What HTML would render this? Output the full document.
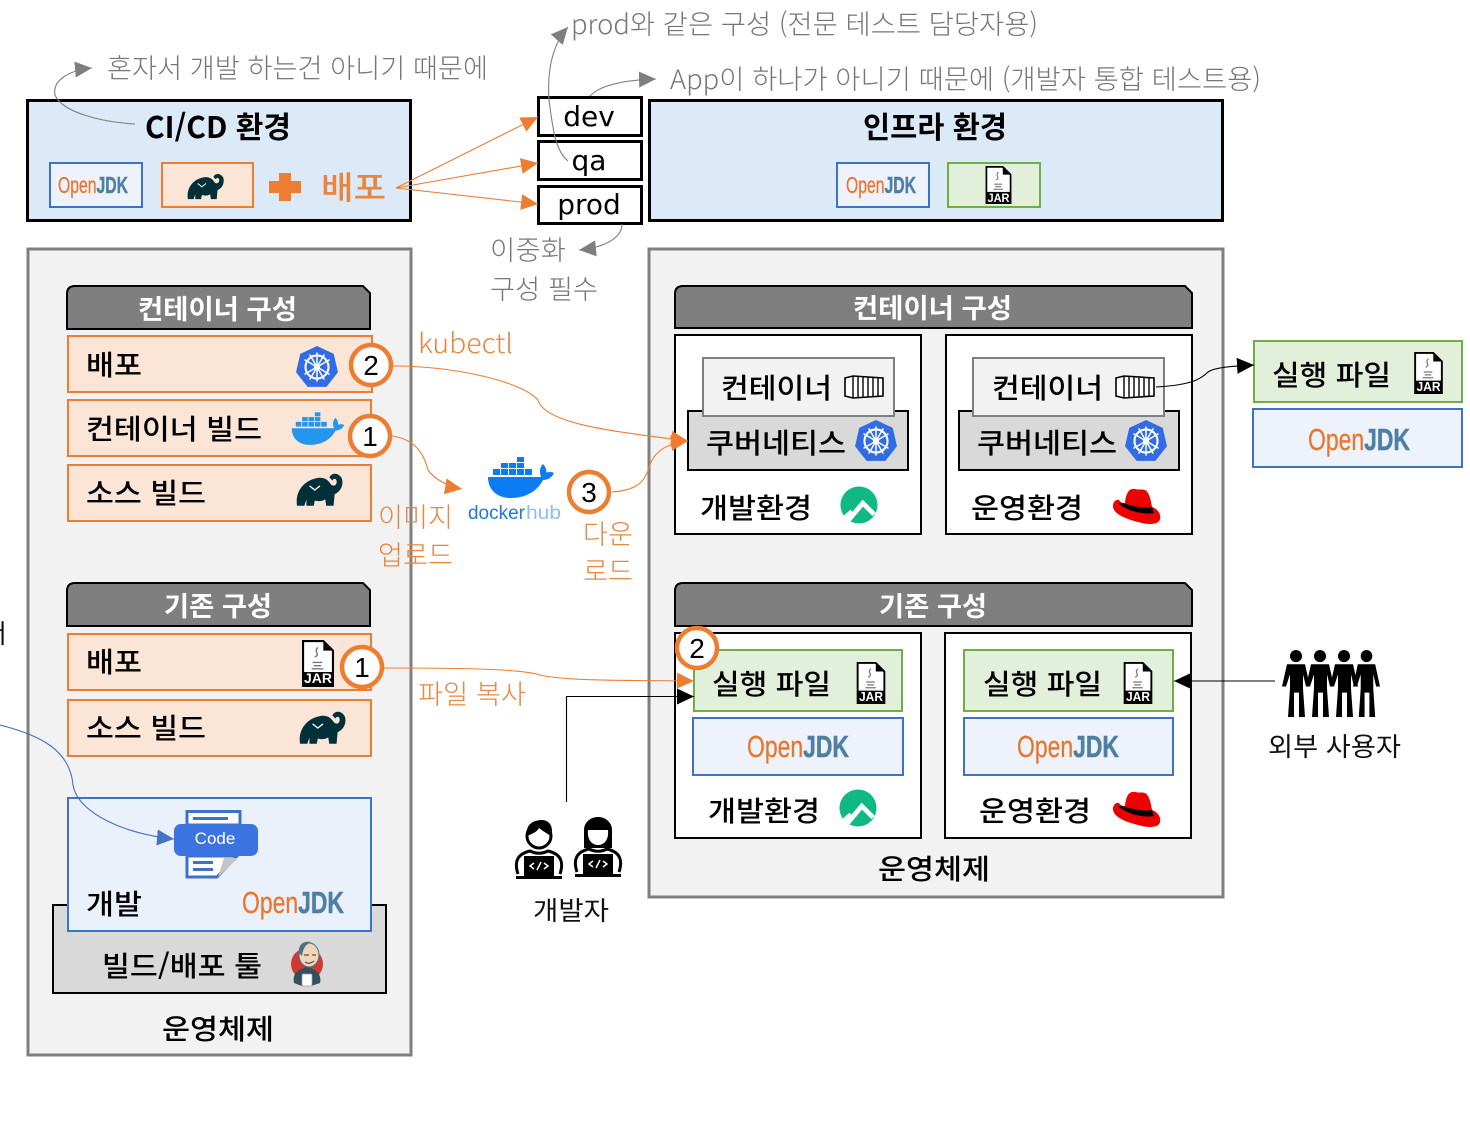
<!DOCTYPE html>
<html lang="ko"><head><meta charset="utf-8"><title>CI/CD</title>
<style>
html,body{margin:0;padding:0;background:#fff;width:1470px;height:1144px;overflow:hidden}
svg{display:block}
text{font-family:"Liberation Sans","Noto Sans CJK KR",sans-serif}
.b,.h,.g,.o,.d{transform:translateY(1px)}
.b{font-family:"Noto Sans CJK KR","Liberation Sans",sans-serif;font-weight:500;font-size:28px;fill:#000}
.h{font-family:"Noto Sans CJK KR","Liberation Sans",sans-serif;font-weight:700;font-size:27px;fill:#fff}
.g{font-family:"Noto Sans CJK KR","Liberation Sans",sans-serif;font-weight:300;font-size:27px;fill:#767676}
.o{font-family:"Noto Sans CJK KR","Liberation Sans",sans-serif;font-weight:300;font-size:27px;fill:#e8853f}
.n{font-family:"DejaVu Sans",sans-serif;font-size:28px;fill:#000;text-anchor:middle}
.d{font-family:"Noto Sans CJK KR","Liberation Sans",sans-serif;font-size:26px;fill:#111;font-weight:400}
.j{font-weight:400;fill:#e8762d;stroke:#e8762d;stroke-width:.3}
.j tspan{fill:#4f7fa3;stroke:#4f7fa3;stroke-width:.5;font-weight:700}
.jr{font-weight:700;font-size:14px;fill:#fff}
.gr{stroke:#7f7f7f;stroke-width:1.1;fill:none}
.or{stroke:#ed7d31;stroke-width:1.1;fill:none}
.bk{stroke:#000;stroke-width:1.1;fill:none}
</style></head><body>
<svg width="1470" height="1144" viewBox="0 0 1470 1144" xmlns="http://www.w3.org/2000/svg">
<defs>
<marker id="mg" markerUnits="userSpaceOnUse" markerWidth="18" markerHeight="18" refX="17" refY="9" orient="auto"><path d="M0 1L17 9L0 17Z" fill="#7f7f7f"/></marker>
<marker id="mo" markerUnits="userSpaceOnUse" markerWidth="18" markerHeight="18" refX="17" refY="9" orient="auto"><path d="M0 1L17 9L0 17Z" fill="#ed7d31"/></marker>
<marker id="mk" markerUnits="userSpaceOnUse" markerWidth="18" markerHeight="18" refX="17" refY="9" orient="auto"><path d="M0 1L17 9L0 17Z" fill="#000"/></marker>
<marker id="mb" markerUnits="userSpaceOnUse" markerWidth="18" markerHeight="18" refX="17" refY="9" orient="auto"><path d="M0 1L17 9L0 17Z" fill="#4472c4"/></marker>
<symbol id="gradle" viewBox="0 0 46 34"><path d="M1 33C-1 21 6 10 18 7C25 5 30 7 33 12C35 15 39 14 39 10C39 7 36 6 35 9L32 6C34 1 41 1 44 7C46 14 42 20 37 22L36 33H29L28 27C25 29 21 29 18 28L17 33H10L10 27L8 33Z" fill="#02303a"/><path d="M13 14L18 18L23 14" stroke="#fff" stroke-width="1.2" fill="none"/></symbol>
<symbol id="k8s" viewBox="0 0 42 42"><path d="M21 1L37 8.5L41 26L30 40H12L1 26L5 8.5Z" fill="#326ce5"/><circle cx="21" cy="21" r="11" fill="none" stroke="#fff" stroke-width="2"/><circle cx="21" cy="21" r="3" fill="#fff"/><path d="M21 7V35M9 14L33 28M9 28L33 14M14 9L28 33M28 9L14 33" stroke="#fff" stroke-width="1.4"/></symbol>
<symbol id="whale" viewBox="0 0 68 42"><g fill="currentColor"><path d="M1 20H54C57 15 63 14 67 16C65 21 60 23 56 23C51 33 40 41 24 41C9 41 1 32 1 20Z"/><path d="M54 20C52 14 53 10 56 7C59 10 60 14 59 18Z"/><rect x="6" y="12" width="7" height="6"/><rect x="14" y="12" width="7" height="6"/><rect x="22" y="12" width="7" height="6"/><rect x="30" y="12" width="7" height="6"/><rect x="38" y="12" width="7" height="6"/><rect x="14" y="6" width="7" height="5"/><rect x="22" y="6" width="7" height="5"/><rect x="30" y="6" width="7" height="5"/><rect x="30" y="0" width="7" height="5"/></g></symbol>
<symbol id="rocky" viewBox="0 0 40 40"><circle cx="20" cy="20" r="19.5" fill="#10b981"/><path d="M9 36L24 18L36 30" fill="none" stroke="#fff" stroke-width="5"/><path d="M3 32L11 25L16 30L9 38Z" fill="#fff"/></symbol>
<symbol id="redhat" viewBox="0 0 48 36"><path d="M12 15C13 5 16 0 22 1C26 2 29 1 32 2C36 4 38 12 39 19C45 21 48 26 47 31C46 37 35 37 25 34C13 31 0 26 0 18C0 14 3 11 6 12C8 15 10 15 12 15Z" fill="#e00"/><path d="M9 15C16 17 30 21 39 19L41 25C30 27 14 23 5 15C7 15 8 15 9 15Z" fill="#000"/></symbol>
<symbol id="cont" viewBox="0 0 40 24"><path d="M1 3L9 1L39 3V21L9 23L1 21Z" fill="#fff" stroke="#000" stroke-width="1.6"/><path d="M9 1V23M14 2V22M19 2V22M24 2V22M29 2V22M34 2V22" stroke="#000" stroke-width="1.4"/></symbol>
<symbol id="person" viewBox="0 0 28 66" preserveAspectRatio="none"><circle cx="14" cy="6" r="6" fill="#000"/><path d="M5 14H23L28 36H24L21 24V38L23 66H17V42H12V66H6L8 38V24L4 36H0Z" fill="#000"/></symbol>
<symbol id="devm" viewBox="0 0 50 62"><circle cx="25" cy="18" r="12" fill="#fff" stroke="#000" stroke-width="3"/><path d="M13 18C11 6 20 2 28 2C36 2 40 10 37 18C32 15 26 11 25 10C23 14 18 16 13 18Z" fill="#000"/><path d="M4 56C0 44 3 36 16 33C22 36 28 36 34 33C47 36 50 44 46 56" fill="#fff" stroke="#000" stroke-width="3"/><rect x="10" y="38" width="30" height="20" fill="#000"/><rect x="2" y="58" width="46" height="3" fill="#000"/><path d="M20 45L16 48L20 51M30 45L34 48L30 51M27 44L23 52" stroke="#fff" stroke-width="1.5" fill="none"/></symbol>
<symbol id="devf" viewBox="0 0 50 62"><path d="M11 32V14C11 6 18 1 25 1C32 1 39 6 39 14V32Z" fill="#000"/><path d="M15 14C22 14 30 14 35 14C36 24 31 29 25 29C19 29 14 24 15 14Z" fill="#fff"/><path d="M4 56C0 44 3 36 16 33C22 36 28 36 34 33C47 36 50 44 46 56" fill="#fff" stroke="#000" stroke-width="3"/><rect x="10" y="38" width="30" height="20" fill="#000"/><rect x="2" y="58" width="46" height="3" fill="#000"/><path d="M20 45L16 48L20 51M30 45L34 48L30 51M27 44L23 52" stroke="#fff" stroke-width="1.5" fill="none"/></symbol>
<symbol id="jarb" viewBox="0 0 30 44"><path d="M1 1H20L29 10V43H1Z" fill="#fff" stroke="#000" stroke-width="2"/><path d="M20 1V10H29Z" fill="#000"/><rect x="1" y="30" width="28" height="13" fill="#000"/><path d="M12 16C18 13 10 11 15 7M10 21H19M11 24H18M9 27H20" stroke="#777" stroke-width="1.3" fill="none"/></symbol>
</defs>

<!-- top environment boxes -->
<rect x="27.5" y="100.5" width="383" height="120" fill="#dce9f6" stroke="#000" stroke-width="3"/>
<rect x="649.5" y="100.5" width="573" height="120" fill="#dce9f6" stroke="#000" stroke-width="3"/>
<text class="b" x="145" y="137" style="font-weight:700;font-size:30px" textLength="146" lengthAdjust="spacingAndGlyphs">CI/CD 환경</text>
<text class="b" x="863" y="137" style="font-weight:700;font-size:30px" textLength="144" lengthAdjust="spacingAndGlyphs">인프라 환경</text>
<rect x="50" y="163" width="92" height="44" fill="#edf2fb" stroke="#3d72c9" stroke-width="2"/>
<text class="j" x="58" y="193" font-size="23" textLength="70" lengthAdjust="spacingAndGlyphs">Open<tspan>JDK</tspan></text>
<rect x="162" y="163" width="91" height="44" fill="#fbe5d6" stroke="#ed7d31" stroke-width="2"/>
<use href="#gradle" x="187" y="172" width="38" height="28"/>
<path d="M279 173H291V181H301V193H291V201H279V193H269V181H279Z" fill="#ed7d31"/>
<text class="o" x="321" y="198" style="font-size:32px;font-weight:500" textLength="65" lengthAdjust="spacingAndGlyphs">배포</text>
<rect x="837" y="163" width="92" height="44" fill="#edf2fb" stroke="#3d72c9" stroke-width="2"/>
<text class="j" x="846" y="193" font-size="23" textLength="70" lengthAdjust="spacingAndGlyphs">Open<tspan>JDK</tspan></text>
<rect x="948" y="163" width="92" height="44" fill="#e2efda" stroke="#70ad47" stroke-width="2"/>
<use href="#jarb" x="985" y="166" width="27" height="38"/><text class="jr" x="998.5" y="202" text-anchor="middle" style="font-size:12px" textLength="22" lengthAdjust="spacingAndGlyphs">JAR</text>

<!-- dev qa prod -->
<rect x="538.5" y="97.5" width="103" height="38" fill="#fff" stroke="#000" stroke-width="3"/>
<rect x="538.5" y="141.5" width="103" height="38" fill="#fff" stroke="#000" stroke-width="3"/>
<rect x="538.5" y="186.5" width="103" height="37" fill="#fff" stroke="#000" stroke-width="3"/>
<text class="n" x="589" y="126">dev</text>
<text class="n" x="589" y="170">qa</text>
<text class="n" x="589" y="214">prod</text>

<!-- annotations -->
<text class="g" x="107" y="77" textLength="381" lengthAdjust="spacingAndGlyphs">혼자서 개발 하는건 아니기 때문에</text>
<text class="g" x="571" y="33" textLength="467" lengthAdjust="spacingAndGlyphs">prod와 같은 구성 (전문 테스트 담당자용)</text>
<text class="g" x="670" y="88" textLength="591" lengthAdjust="spacingAndGlyphs">App이 하나가 아니기 때문에 (개발자 통합 테스트용)</text>
<text class="g" x="490" y="259" textLength="76" lengthAdjust="spacingAndGlyphs">이중화</text>
<text class="g" x="490" y="298" textLength="108" lengthAdjust="spacingAndGlyphs">구성 필수</text>

<!-- panels -->
<rect x="28" y="249" width="383" height="806" fill="#f2f2f2" stroke="#7f7f7f" stroke-width="3"/>
<rect x="649" y="249" width="574" height="648" fill="#f2f2f2" stroke="#7f7f7f" stroke-width="3"/>

<!-- left panel headings -->
<path d="M67 329V294Q67 286 75 286H363L370 293V329Z" fill="#7f7f7f" stroke="#000" stroke-width="2"/>
<text class="h" x="138" y="318" textLength="159" lengthAdjust="spacingAndGlyphs">컨테이너 구성</text>
<path d="M67 626V591Q67 583 75 583H363L370 590V626Z" fill="#7f7f7f" stroke="#000" stroke-width="2"/>
<text class="h" x="164" y="615" textLength="108" lengthAdjust="spacingAndGlyphs">기존 구성</text>

<!-- left rows -->
<g fill="#fbe5d6" stroke="#ed7d31" stroke-width="2">
<rect x="68" y="336" width="304" height="56"/>
<rect x="68" y="400" width="303" height="56"/>
<rect x="68" y="465" width="303" height="56"/>
<rect x="68" y="634" width="303" height="56"/>
<rect x="68" y="700" width="303" height="56"/>
</g>
<text class="b" x="86" y="374" textLength="56" lengthAdjust="spacingAndGlyphs">배포</text>
<text class="b" x="86" y="438" textLength="176" lengthAdjust="spacingAndGlyphs">컨테이너 빌드</text>
<text class="b" x="86" y="502" textLength="120" lengthAdjust="spacingAndGlyphs">소스 빌드</text>
<text class="b" x="86" y="671" textLength="56" lengthAdjust="spacingAndGlyphs">배포</text>
<text class="b" x="86" y="737" textLength="120" lengthAdjust="spacingAndGlyphs">소스 빌드</text>
<use href="#k8s" x="295" y="345" width="44" height="44"/>
<use href="#whale" x="291" y="409" width="54" height="40" style="color:#2496ed"/>
<use href="#gradle" x="296" y="471" width="48" height="36"/>
<use href="#jarb" x="301" y="640" width="34" height="47"/><text class="jr" x="318" y="683" text-anchor="middle" style="font-size:14px" textLength="28" lengthAdjust="spacingAndGlyphs">JAR</text>
<use href="#gradle" x="299" y="709" width="48" height="36"/>

<!-- tool + dev -->
<rect x="53" y="905" width="333" height="88" fill="#d9d9d9" stroke="#000" stroke-width="2"/>
<rect x="68" y="798" width="303" height="133" fill="#ebf1fb" stroke="#3d72c9" stroke-width="2"/>
<path d="M187 811.5H240V825H187Z" fill="#fff" stroke="#3d72c9" stroke-width="3"/>
<rect x="193" y="817" width="35" height="3" fill="#3d72c9"/>
<path d="M187 856V877H217L237 856Z" fill="#fff" stroke="#3d72c9" stroke-width="3"/>
<path d="M218 877L224 858H238Z" fill="#c5c5c5"/>
<rect x="193" y="861" width="20" height="3" fill="#3d72c9"/><rect x="193" y="868" width="20" height="3" fill="#3d72c9"/>
<rect x="174" y="824" width="84" height="32" rx="7" fill="#3b74e0"/>
<text x="215" y="844" font-size="17" fill="#fff" text-anchor="middle">Code</text>
<text class="b" x="86" y="913" textLength="56" lengthAdjust="spacingAndGlyphs">개발</text>
<text class="j" x="242" y="913" font-size="31" textLength="102" lengthAdjust="spacingAndGlyphs">Open<tspan>JDK</tspan></text>
<text class="b" x="102" y="975" textLength="160" lengthAdjust="spacingAndGlyphs">빌드/배포 툴</text>
<circle cx="307" cy="964" r="16" fill="#d33833"/>
<path d="M294 983C292 974 298 969 307 967C316 969 322 974 320 983L311 986H302Z" fill="#335061"/>
<ellipse cx="309" cy="955" rx="10" ry="12" fill="#f0d6b7" stroke="#49728b"/>
<path d="M299 953C298 943 305 941 311 942C305 945 303 949 302 956Z" fill="#49728b"/>
<path d="M304 955H309M312 955H316M305 962Q309 965 314 961" stroke="#333" stroke-width="1" fill="none"/>
<rect x="302" y="974" width="10" height="12" rx="1" fill="#fff" stroke="#999" stroke-width=".7"/>
<text class="b" x="162" y="1038" textLength="112" lengthAdjust="spacingAndGlyphs">운영체제</text>

<!-- right headings -->
<path d="M675 328V294Q675 286 683 286H1185L1192 293V328Z" fill="#7f7f7f" stroke="#000" stroke-width="2"/>
<text class="h" x="853" y="317" textLength="159" lengthAdjust="spacingAndGlyphs">컨테이너 구성</text>
<path d="M675 626V591Q675 583 683 583H1185L1192 590V626Z" fill="#7f7f7f" stroke="#000" stroke-width="2"/>
<text class="h" x="879" y="615" textLength="108" lengthAdjust="spacingAndGlyphs">기존 구성</text>

<!-- upper right boxes -->
<g fill="#fff" stroke="#000" stroke-width="2">
<rect x="675" y="335" width="246" height="199"/>
<rect x="946" y="335" width="246" height="199"/>
<rect x="675" y="633" width="246" height="205"/>
<rect x="945" y="633" width="246" height="205"/>
</g>
<rect x="688" y="411" width="220" height="59" fill="#d9d9d9" stroke="#000" stroke-width="2"/>
<rect x="959" y="411" width="220" height="59" fill="#d9d9d9" stroke="#000" stroke-width="2"/>
<rect x="703" y="358" width="191" height="58" fill="#f2f2f2" stroke="#7f7f7f" stroke-width="2"/>
<rect x="973" y="358" width="191" height="58" fill="#f2f2f2" stroke="#7f7f7f" stroke-width="2"/>
<text class="b" x="721" y="397" textLength="111" lengthAdjust="spacingAndGlyphs">컨테이너</text>
<text class="b" x="992" y="397" textLength="111" lengthAdjust="spacingAndGlyphs">컨테이너</text>
<use href="#cont" x="844" y="375" width="40" height="24"/>
<use href="#cont" x="1115" y="375" width="40" height="24"/>
<text class="b" x="706" y="452" textLength="140" lengthAdjust="spacingAndGlyphs">쿠버네티스</text>
<text class="b" x="977" y="452" textLength="140" lengthAdjust="spacingAndGlyphs">쿠버네티스</text>
<use href="#k8s" x="854" y="419" width="44" height="44"/>
<use href="#k8s" x="1124" y="419" width="44" height="44"/>
<text class="b" x="700" y="517" textLength="112" lengthAdjust="spacingAndGlyphs">개발환경</text>
<text class="b" x="971" y="517" textLength="112" lengthAdjust="spacingAndGlyphs">운영환경</text>
<use href="#rocky" x="840" y="486" width="38" height="38"/>
<use href="#redhat" x="1113" y="488" width="48" height="36"/>

<!-- far right -->
<rect x="1254" y="341" width="208" height="61" fill="#e2efda" stroke="#70ad47" stroke-width="2"/>
<text class="b" x="1272" y="384" textLength="119" lengthAdjust="spacingAndGlyphs">실행 파일</text>
<use href="#jarb" x="1414" y="352" width="29" height="42"/><text class="jr" x="1428.5" y="391" text-anchor="middle" style="font-size:13px" textLength="24" lengthAdjust="spacingAndGlyphs">JAR</text>
<rect x="1253" y="409" width="209" height="58" fill="#edf2fb" stroke="#3d72c9" stroke-width="2"/>
<text class="j" x="1308" y="450" font-size="31" textLength="102" lengthAdjust="spacingAndGlyphs">Open<tspan>JDK</tspan></text>

<!-- lower right -->
<rect x="694" y="650" width="208" height="61" fill="#e2efda" stroke="#70ad47" stroke-width="2"/>
<rect x="964" y="650" width="209" height="61" fill="#e2efda" stroke="#70ad47" stroke-width="2"/>
<rect x="693" y="718" width="210" height="57" fill="#edf2fb" stroke="#3d72c9" stroke-width="2"/>
<rect x="964" y="718" width="209" height="57" fill="#edf2fb" stroke="#3d72c9" stroke-width="2"/>
<text class="b" x="712" y="693" textLength="119" lengthAdjust="spacingAndGlyphs">실행 파일</text>
<text class="b" x="983" y="693" textLength="119" lengthAdjust="spacingAndGlyphs">실행 파일</text>
<use href="#jarb" x="856" y="662" width="30" height="42"/><text class="jr" x="871" y="701" text-anchor="middle" style="font-size:13px" textLength="24" lengthAdjust="spacingAndGlyphs">JAR</text>
<use href="#jarb" x="1123" y="662" width="30" height="42"/><text class="jr" x="1138" y="701" text-anchor="middle" style="font-size:13px" textLength="24" lengthAdjust="spacingAndGlyphs">JAR</text>
<text class="j" x="747" y="757" font-size="31" textLength="102" lengthAdjust="spacingAndGlyphs">Open<tspan>JDK</tspan></text>
<text class="j" x="1017" y="757" font-size="31" textLength="102" lengthAdjust="spacingAndGlyphs">Open<tspan>JDK</tspan></text>
<text class="b" x="708" y="820" textLength="112" lengthAdjust="spacingAndGlyphs">개발환경</text>
<text class="b" x="979" y="820" textLength="112" lengthAdjust="spacingAndGlyphs">운영환경</text>
<use href="#rocky" x="839" y="789" width="38" height="38"/>
<use href="#redhat" x="1113" y="791" width="48" height="36"/>
<text class="b" x="878" y="878" textLength="112" lengthAdjust="spacingAndGlyphs">운영체제</text>

<!-- people -->
<use href="#person" x="1282" y="650" width="28" height="67"/>
<use href="#person" x="1306" y="650" width="28" height="67"/>
<use href="#person" x="1330" y="650" width="28" height="67"/>
<use href="#person" x="1353" y="650" width="27" height="67"/>
<text class="d" x="1268" y="755" textLength="133" lengthAdjust="spacingAndGlyphs">외부 사용자</text>
<use href="#devm" x="514" y="818" width="50" height="62"/>
<use href="#devf" x="573" y="816" width="50" height="62"/>
<text class="d" x="533" y="919" textLength="76" lengthAdjust="spacingAndGlyphs">개발자</text>

<!-- docker hub -->
<use href="#whale" x="487" y="457" width="68" height="42" style="color:#0d7cf2"/>
<text x="468" y="519" font-size="19" fill="#1d78d8" textLength="57" lengthAdjust="spacingAndGlyphs">docker</text>
<text x="526" y="519" font-size="19" fill="#8fbdf0" textLength="35" lengthAdjust="spacingAndGlyphs">hub</text>

<!-- orange labels -->
<text class="o" x="418" y="352" textLength="95" lengthAdjust="spacingAndGlyphs">kubectl</text>
<text class="o" x="378" y="526" textLength="75" lengthAdjust="spacingAndGlyphs">이미지</text>
<text class="o" x="378" y="564" textLength="75" lengthAdjust="spacingAndGlyphs">업로드</text>
<text class="o" x="583" y="543" textLength="50" lengthAdjust="spacingAndGlyphs">다운</text>
<text class="o" x="583" y="580" textLength="50" lengthAdjust="spacingAndGlyphs">로드</text>
<text class="o" x="418" y="703" textLength="108" lengthAdjust="spacingAndGlyphs">파일 복사</text>
<text class="d" x="-17" y="642">서</text>

<!-- connectors -->
<path class="gr" d="M135 124C100 122 62 112 55 95C52 80 70 70 92 68" marker-end="url(#mg)"/>
<path class="gr" d="M568 161C555 150 553 130 549 100C547 70 552 45 568 27" marker-end="url(#mg)"/>
<path class="gr" d="M590 96C600 85 625 80 656 79" marker-end="url(#mg)"/>
<path class="gr" d="M622 224C622 240 600 248 579 250" marker-end="url(#mg)"/>
<path class="or" d="M396 188L538 117" marker-end="url(#mo)"/>
<path class="or" d="M396 188L538 163" marker-end="url(#mo)"/>
<path class="or" d="M396 188L538 204" marker-end="url(#mo)"/>
<path class="or" d="M393 366C450 366 520 380 538 400C545 425 620 432 688 441" marker-end="url(#mo)"/>
<path class="or" d="M392 436C420 440 425 460 428 470C435 480 450 487 462 489" marker-end="url(#mo)"/>
<path class="or" d="M612 492C640 490 645 480 650 465C655 450 670 443 688 441" marker-end="url(#mo)"/>
<path class="or" d="M384 668C440 668 520 668 540 675C570 682 650 680 694 681" marker-end="url(#mo)"/>
<path class="bk" d="M566.5 802V696.5H694" marker-end="url(#mk)"/>
<path class="bk" d="M1275 681H1174" marker-end="url(#mk)"/>
<path class="bk" d="M1156 387C1190 385 1200 380 1208 372C1215 367 1235 366 1254 365" marker-end="url(#mk)"/>
<path d="M0 725C40 735 70 750 73 785C78 815 130 835 174 839" fill="none" stroke="#4472c4" stroke-width="1.1" marker-end="url(#mb)"/>

<!-- numbered circles -->
<g fill="#fff" stroke="#ed7d31" stroke-width="4.5">
<circle cx="371" cy="365" r="20"/>
<circle cx="370" cy="436" r="20"/>
<circle cx="589" cy="492" r="20"/>
<circle cx="362" cy="667" r="20"/>
<circle cx="697" cy="648" r="20"/>
</g>
<g font-size="28" fill="#000" text-anchor="middle">
<text x="371" y="375">2</text>
<text x="370" y="446">1</text>
<text x="589" y="502">3</text>
<text x="362" y="677">1</text>
<text x="697" y="658">2</text>
</g>
</svg>
</body></html>
